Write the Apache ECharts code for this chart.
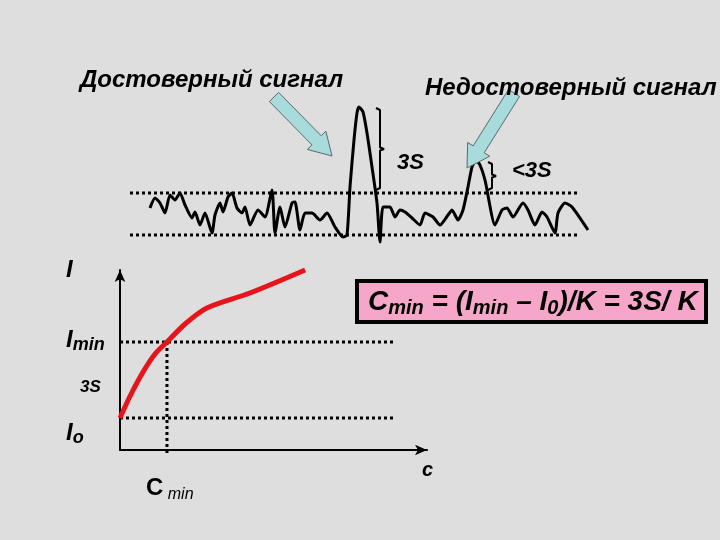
<!DOCTYPE html>
<html><head><meta charset="utf-8">
<script src="https://cdn.jsdelivr.net/npm/echarts@6/dist/echarts.min.js"></script>
<style>html,body{margin:0;padding:0;background:#dedede}#c{width:720px;height:540px}</style>
</head><body><div id="c"></div>
<script>
// Signal trace (time, intensity)
const sigT = [2.0,2.5,3.0,3.5,4.0,4.5,5.0,5.5,6.2,6.5,7.0,7.5,8.2,8.5,9.0,9.3,9.8,10.2,10.7,11.2,11.5,12.0,12.8,13.5,14.2,14.5,15.0,15.5,16.2,16.5,17.0,17.5,18.2,19.0,19.7,20.5,21.3,21.7,22.0,22.4,22.7,22.9,23.3,23.7,24.2,24.7,25.0,25.3,26.0,26.5,27.0,27.5,28.2,29.0,29.5,30.3,31.0,31.8,32.2,32.8,33.3,33.8,34.2,34.6,35.0,35.5,36.5,37.2,37.7,38.3,39.3,39.8,40.5,41.2,41.7,42.5,42.8,43.5,44.2,45.8];
const sigV = [4.2,5.2,4.7,3.7,5.5,5.0,5.7,4.5,3.2,3.8,2.5,3.7,1.7,3.5,4.7,3.8,5.3,5.7,4.2,3.7,4.3,2.5,4.0,3.3,6.0,1.7,4.3,2.3,4.7,4.8,2.0,3.7,3.7,3.0,3.7,2.3,1.3,1.5,6.3,11.0,13.7,14.3,13.8,11.7,8.3,4.7,0.8,4.3,4.3,3.3,4.0,3.8,3.2,2.5,3.7,3.3,2.5,3.5,4.0,3.0,4.0,6.3,8.3,9.0,8.5,7.0,2.5,4.0,4.2,3.3,4.7,4.0,2.5,3.8,3.3,1.7,3.7,4.7,4.3,2.0];
const noiseUpper = 5.7, noiseLower = 1.5, sigTStart = 0, sigTEnd = 45;
const bigPeak = 14.2, smallPeak = 8.8;
// Calibration curve (concentration, intensity)
const calC = [0,0.33,0.75,1.14,1.53,2.12,2.83,4.23,6.03];
const calI = [1.78,3.0,4.33,5.33,6.0,7.0,7.89,8.72,10.0];
const I0 = 1.78, Imin = 6.0, Cmin = 1.53, guideEnd = 8.9;

const chart = echarts.init(document.getElementById('c'), null, {renderer:'canvas'});
const zip = (a,b)=>a.map((v,i)=>[v,b[i]]);
const dotted = (data, xi) => ({type:'line', xAxisIndex:xi, yAxisIndex:xi, data, symbol:'none', silent:true, clip:false,
  lineStyle:{color:'#000', width:3, type:[3,3]}});
const bracket = (t, top, base) => [[t-0.4,top],[t,top-0.2],[t,(top+base)/2+0.15],[t+0.4,(top+base)/2],[t,(top+base)/2-0.15],[t,base+0.2],[t-0.4,base]];

function arrowPts(tx,ty,px,py){
  const L=Math.hypot(px-tx,py-ty), dx=(px-tx)/L, dy=(py-ty)/L, nx=-dy, ny=dx;
  const h=22, w=6.5, W=13, bx=px-dx*h, by=py-dy*h;
  return [[tx+nx*w,ty+ny*w],[bx+nx*w,by+ny*w],[bx+nx*W,by+ny*W],[px,py],[bx-nx*W,by-ny*W],[bx-nx*w,by-ny*w],[tx-nx*w,ty-ny*w]];
}
const F = '"Liberation Sans", Arial, sans-serif';
const txt = (x,y,text,size,opts={}) => ({type:'text', x, y, z:10, style:Object.assign({text, fill:'#000', font:`italic bold ${size}px ${F}`, textVerticalAlign:'middle'}, opts)});

chart.setOption({
  backgroundColor:'#dedede',
  animation:false,
  grid:[{left:130, top:100, width:460, height:150},{left:120, top:270, width:307, height:180}],
  xAxis:[{type:'value', gridIndex:0, min:0, max:46, show:false},
         {type:'value', gridIndex:1, min:0, max:10, axisLine:{show:true, symbol:['none','arrow'], symbolSize:[8,12], lineStyle:{color:'#000', width:2}}, axisTick:{show:false}, axisLabel:{show:false}, splitLine:{show:false}}],
  yAxis:[{type:'value', gridIndex:0, min:0, max:15, show:false},
         {type:'value', gridIndex:1, min:0, max:10, axisLine:{show:true, symbol:['none','arrow'], symbolSize:[8,12], lineStyle:{color:'#000', width:2}}, axisTick:{show:false}, axisLabel:{show:false}, splitLine:{show:false}}],
  series:[
    dotted([[sigTStart,noiseUpper],[sigTEnd,noiseUpper]],0),
    dotted([[sigTStart,noiseLower],[sigTEnd,noiseLower]],0),
    {type:'line', xAxisIndex:0, yAxisIndex:0, data:zip(sigT,sigV), symbol:'none', smooth:0.2, clip:false, lineStyle:{color:'#000', width:3}},
    {type:'line', xAxisIndex:0, yAxisIndex:0, data:bracket(25,bigPeak,6.0), symbol:'none', clip:false, lineStyle:{color:'#000', width:2}},
    {type:'line', xAxisIndex:0, yAxisIndex:0, data:bracket(36.2,smallPeak,6.0), symbol:'none', clip:false, lineStyle:{color:'#000', width:2}},
    dotted([[0,Imin],[guideEnd,Imin]],1),
    dotted([[0,I0],[guideEnd,I0]],1),
    dotted([[Cmin,Imin],[Cmin,-0.3]],1),
    {type:'line', xAxisIndex:1, yAxisIndex:1, data:zip(calC,calI), symbol:'none', smooth:0.3, clip:false, lineStyle:{color:'#e8141c', width:5}, z:5}
  ],
  graphic:[
    {type:'polygon', z:8, shape:{points:arrowPts(274,97,332,156)}, style:{fill:'#a8dcdc', stroke:'#5a6a6a', lineWidth:1}},
    {type:'polygon', z:8, shape:{points:arrowPts(514,93,467,168)}, style:{fill:'#a8dcdc', stroke:'#5a6a6a', lineWidth:1}},
    txt(80,80,'Достоверный сигнал',24),
    txt(425,88,'Недостоверный сигнал',24),
    txt(397,163,'3S',22),
    txt(512,171,'<3S',22),
    txt(66,270,'I',24),
    txt(66,340,'{a|I}{s|min}',24,{rich:{a:{font:`italic bold 24px ${F}`},s:{font:`italic bold 18px ${F}`, padding:[10,0,0,0]}}}),
    txt(80,387,'3S',17),
    txt(66,433,'{a|I}{s|o}',24,{rich:{a:{font:`italic bold 24px ${F}`},s:{font:`italic bold 18px ${F}`, padding:[10,0,0,0]}}}),
    txt(146,488,'{a|C}{s| min}',24,{rich:{a:{font:`bold 24px ${F}`},s:{font:`italic 16px ${F}`, padding:[14,0,0,0]}}}),
    txt(422,470,'c',20),
    {type:'rect', z:9, shape:{x:357, y:281, width:349, height:41}, style:{fill:'#f5a6c9', stroke:'#000', lineWidth:4}},
    txt(368,302,'{a|C}{s|min}{a| = (I}{s|min}{a| – I}{s|0}{a|)/K = 3S/ K}',28,{rich:{a:{font:`italic bold 28px ${F}`},s:{font:`italic bold 20px ${F}`, padding:[12,0,0,0]}}})
  ]
});
</script></body></html>
